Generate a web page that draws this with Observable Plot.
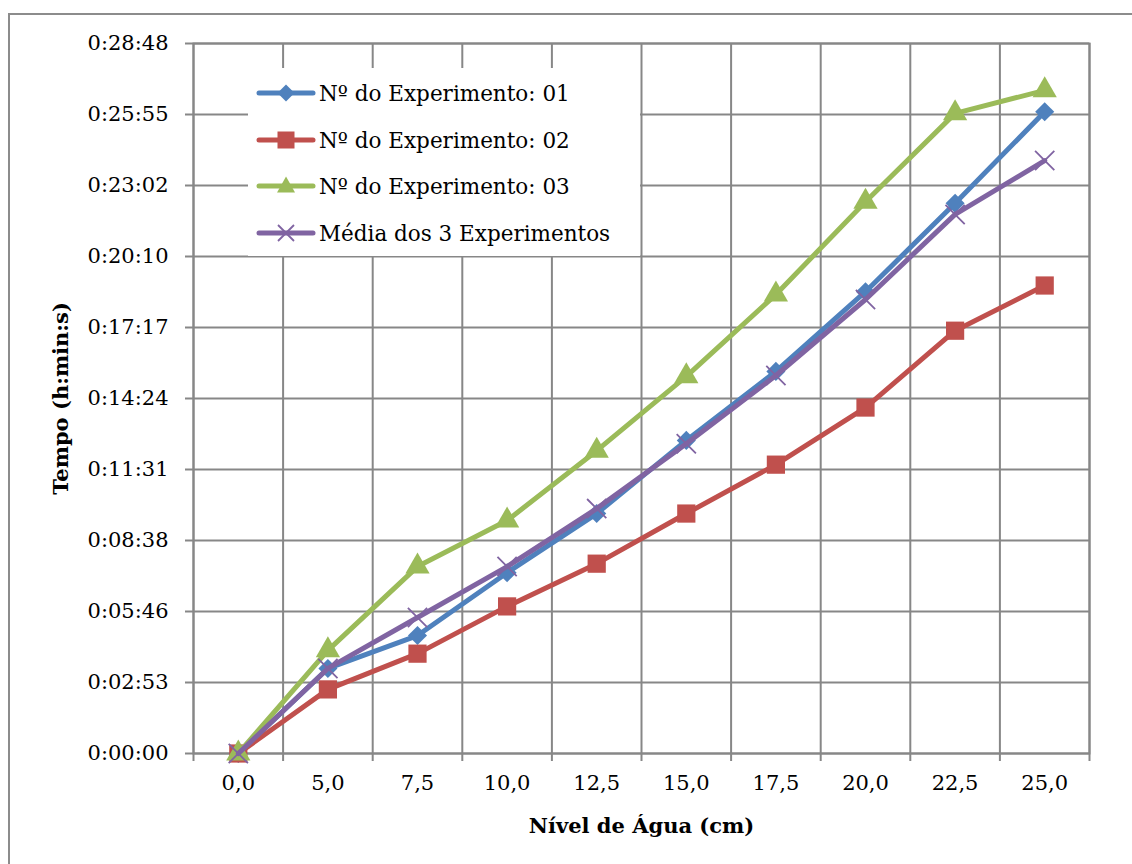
<!DOCTYPE html>
<html>
<head>
<meta charset="utf-8">
<script src="https://cdn.jsdelivr.net/npm/d3@7"></script>
<script src="https://cdn.jsdelivr.net/npm/@observablehq/plot@0.6"></script>
<style>
  html, body { margin: 0; padding: 0; background: #fff; overflow: hidden; }
  #wrap { position: relative; width: 1132px; height: 864px; font-family: "DejaVu Serif", serif; }
  #outer { position: absolute; left: 8px; top: 13px; right: 0; bottom: 0; border-top: 2px solid #8c8c8c; border-left: 2px solid #8c8c8c; }
  #chart { position: absolute; left: 0; top: 0; }
  #legend { position: absolute; left: 248px; top: 68px; width: 392px; height: 188px; background: #fff; }
  .item { position: absolute; left: 8px; height: 30px; display: flex; align-items: center; font-size: 21.5px; color: #000; white-space: nowrap; }
  .item svg { margin-right: 3px; }
</style>
</head>
<body>
<div id="wrap">
  <div id="outer"></div>
  <div id="chart"></div>
  <div id="legend"></div>
</div>
<script>
// Water level categories (x axis)
const levels = ["0,0", "5,0", "7,5", "10,0", "12,5", "15,0", "17,5", "20,0", "22,5", "25,0"];
// Elapsed time in seconds
const exp01 = [0, 207, 287, 440, 584, 762, 930, 1124, 1339, 1562];
const exp02 = [0, 156, 243, 358, 462, 584, 703, 842, 1029, 1139];
const exp03 = [0, 251, 455, 567, 737, 918, 1117, 1343, 1558, 1614];
const media = [0, 207, 331, 455, 596, 754, 920, 1105, 1312, 1443];
// Y tick values (seconds) -> 0:00:00 ... 0:28:48
const yTicks = [0, 172.8, 345.6, 518.4, 691.2, 864, 1036.8, 1209.6, 1382.4, 1555.2, 1728];
const seriesNames = ["Nº do Experimento: 01", "Nº do Experimento: 02", "Nº do Experimento: 03", "Média dos 3 Experimentos"];
const seriesColors = ["#4F81BD", "#C0504D", "#9BBB59", "#8064A2"];
const seriesSymbols = ["diamond2", "square2", "triangle", "times"];
const xTitle = "Nível de Água (cm)";
const yTitle = "Tempo (h:min:s)";

const allSeries = [exp01, exp02, exp03, media];
const fmt = s => {
  const t = Math.round(s);
  const h = Math.floor(t / 3600), m = Math.floor((t % 3600) / 60), sec = t % 60;
  return `${h}:${String(m).padStart(2, "0")}:${String(sec).padStart(2, "0")}`;
};
const boundaries = d3.range(11).map(i => i - 0.5);
const gridColor = "#878787";
const fs = 21;
const symR = [8.6, 11.6, 9, 8.8];

const marks = [
  Plot.gridY(yTicks, {stroke: gridColor, strokeOpacity: 1, strokeWidth: 2}),
  Plot.gridX(boundaries, {stroke: gridColor, strokeOpacity: 1, strokeWidth: 2}),
  Plot.frame({stroke: gridColor, strokeWidth: 2}),
  Plot.axisY(yTicks, {tickSize: 8, tickPadding: 17, tickFormat: fmt, fontSize: fs, stroke: gridColor, strokeWidth: 2, color: "#000", label: null}),
  Plot.axisX(boundaries, {tickSize: 8, tickFormat: () => "", stroke: gridColor, strokeWidth: 2, label: null}),
  Plot.axisX(d3.range(levels.length), {tickSize: 0, tickPadding: 22, tickFormat: i => levels[i], fontSize: fs, label: null}),
  Plot.text([yTitle], {frameAnchor: "left", dx: -132, rotate: -90, textAnchor: "middle", lineAnchor: "middle", fontWeight: "bold", fontSize: fs, fill: "#000"}),
  Plot.text([xTitle], {frameAnchor: "bottom", dy: 73, textAnchor: "middle", lineAnchor: "middle", fontWeight: "bold", fontSize: fs, fill: "#000"})
];

allSeries.forEach((vals, k) => {
  const data = vals.map((v, i) => ({i, v}));
  marks.push(Plot.line(data, {x: "i", y: "v", stroke: seriesColors[k], strokeWidth: 5, strokeLinejoin: "round", strokeLinecap: "round"}));
  if (seriesSymbols[k] === "times") {
    marks.push(Plot.dot(data, {x: "i", y: "v", symbol: "times", r: symR[k], stroke: seriesColors[k], strokeWidth: 1.8}));
  } else {
    marks.push(Plot.dot(data, {x: "i", y: "v", symbol: seriesSymbols[k], r: symR[k], fill: seriesColors[k], stroke: "none"}));
  }
});

const plot = Plot.plot({
  width: 1132,
  height: 864,
  marginLeft: 193,
  marginRight: 43,
  marginTop: 43,
  marginBottom: 111,
  style: {fontFamily: "'DejaVu Serif', serif", fontSize: fs + "px", color: "#000", background: "transparent"},
  x: {type: "linear", domain: [-0.5, 9.5], axis: null},
  y: {type: "linear", domain: [0, 1728], axis: null},
  marks
});
document.getElementById("chart").appendChild(plot);

// Legend (inside plot area)
const legend = document.getElementById("legend");
const legendY = [25, 72, 118, 165];
seriesNames.forEach((name, k) => {
  const div = document.createElement("div");
  div.className = "item";
  div.style.top = (legendY[k] - 15) + "px";
  const c = seriesColors[k];
  let sym;
  if (k === 0) sym = `<polygon points="30,6.5 38.5,15 30,23.5 21.5,15" fill="${c}"/>`;
  else if (k === 1) sym = `<rect x="21.5" y="6.5" width="17" height="17" fill="${c}"/>`;
  else if (k === 2) sym = `<polygon points="30,5.5 39,21.5 21,21.5" fill="${c}"/>`;
  else sym = `<path d="M22,7 L38,23 M38,7 L22,23" stroke="${c}" stroke-width="1.8"/>`;
  div.innerHTML = `<svg width="60" height="30"><line x1="3" y1="15" x2="57" y2="15" stroke="${c}" stroke-width="5" stroke-linecap="round"/>${sym}</svg><span>${name}</span>`;
  legend.appendChild(div);
});
</script>
</body>
</html>
